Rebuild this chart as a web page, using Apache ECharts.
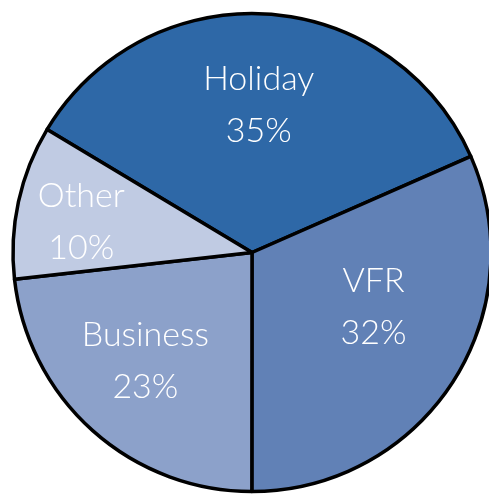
<!DOCTYPE html>
<html>
<head>
<meta charset="utf-8">
<script src="https://cdn.jsdelivr.net/npm/echarts@6/dist/echarts.min.js"></script>
<style>
  html, body { margin: 0; padding: 0; background: #fff; }
  #chart { width: 489px; height: 496px; }
</style>
</head>
<body>
<div id="chart"></div>
<script>
// purposes of visit, share in percent (labels show them rounded)
const categories = ['Holiday', 'VFR', 'Business', 'Other'];
const shares = [34.8, 31.6, 23.2, 10.4];
const colors = ['#2e68a7', '#6181b6', '#8ca1ca', '#c0cbe3'];
// nudge each label from the mid-radius spot to where the original put it
const labelShifts = [[-1, -25], [19, -12], [-25, 17], [-51, -4]];

const chart = echarts.init(document.getElementById('chart'));

chart.setOption({
  animation: false,
  series: [
    {
      type: 'pie',
      center: [252, 252.5],
      radius: 239,
      startAngle: 149,
      clockwise: true,
      avoidLabelOverlap: false,
      itemStyle: {
        borderColor: '#000',
        borderWidth: 3.5
      },
      label: {
        show: true,
        position: 'inside',
        color: '#fff',
        fontFamily: 'Lato',
        fontWeight: 300,
        fontSize: 34,
        lineHeight: 52,
        formatter: p => p.name + '\n' + Math.round(p.percent) + '%'
      },
      labelLayout: p => ({
        dx: labelShifts[p.dataIndex][0],
        dy: labelShifts[p.dataIndex][1]
      }),
      labelLine: { show: false },
      emphasis: { disabled: true },
      data: categories.map((name, i) => ({
        name: name,
        value: shares[i],
        itemStyle: { color: colors[i] }
      }))
    }
  ]
});
</script>
</body>
</html>
